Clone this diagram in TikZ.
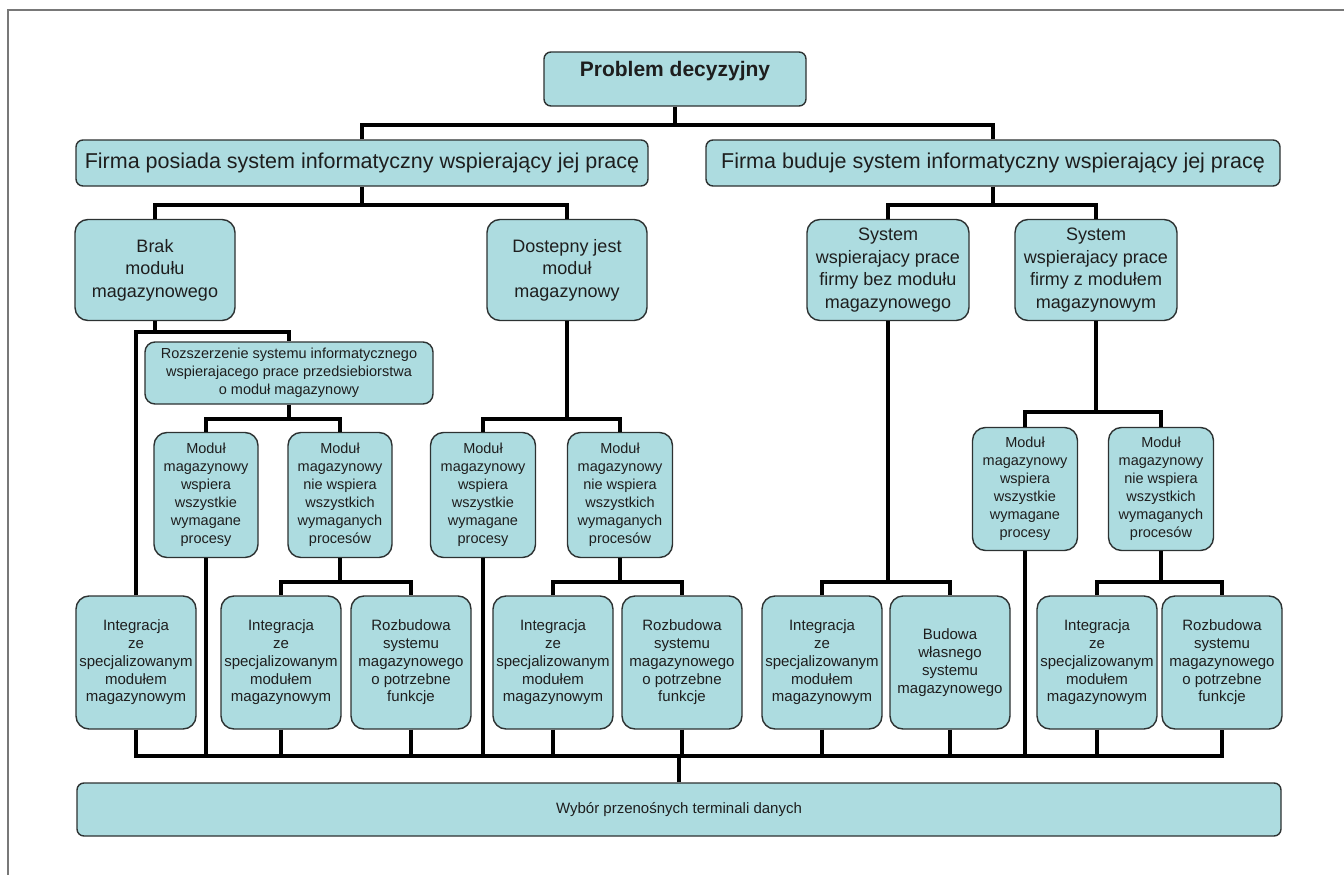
\documentclass[tikz,border=0pt]{standalone}
\usepackage{fontspec}
\setmainfont{Liberation Sans}
\definecolor{boxfill}{RGB}{173,220,224}
\definecolor{boxline}{RGB}{45,50,50}
\definecolor{framecol}{RGB}{120,120,120}
\definecolor{txt}{RGB}{30,30,30}
\tikzset{
  bx/.style={draw=boxline, line width=1.4pt, fill=boxfill, rounded corners=13pt,
    align=center, inner sep=0pt, text=txt},
  widebox/.style={bx, rounded corners=7pt},
  bigtxt/.style={font=\fontsize{21.5pt}{26pt}\selectfont},
  midtxt/.style={font=\fontsize{18pt}{22.5pt}\selectfont},
  smalltxt/.style={font=\fontsize{14.5pt}{18pt}\selectfont},
  bottxt/.style={font=\fontsize{15pt}{17.75pt}\selectfont},
  conn/.style={line width=3.2pt, black, line join=miter},
}
\begin{document}
\begin{tikzpicture}[x=1pt,y=-1pt]
\useasboundingbox (0,0) rectangle (1344,875);
\fill[white] (0,0) rectangle (1344,875);
\draw[framecol, line width=1.3pt] (8,875) -- (8,10) -- (1344,10);

% junction levels
\coordinate (ja) at (0,125);
\coordinate (jb) at (0,205);
\coordinate (jc) at (0,332);
\coordinate (jd) at (0,419);
\coordinate (je) at (0,412);
\coordinate (jf) at (0,582);
\coordinate (bus) at (0,756);

% nodes
\node[widebox, minimum width=262, minimum height=54, text height=14pt, text depth=18pt,
  font=\fontsize{21pt}{25pt}\selectfont\bfseries] (root) at (675,79) {Problem decyzyjny};
\node[widebox, bigtxt, minimum width=572, minimum height=46] (l1l) at (362,163)
  {Firma posiada system informatyczny wspierający jej pracę};
\node[widebox, bigtxt, minimum width=574, minimum height=46] (l1r) at (993,163)
  {Firma buduje system informatyczny wspierający jej pracę};

\node[bx, midtxt, minimum width=160, minimum height=101] (brak) at (155,270)
  {Brak\\modułu\\magazynowego};
\node[bx, midtxt, minimum width=160, minimum height=101] (dost) at (567,270)
  {Dostepny jest\\moduł\\magazynowy};
\node[bx, midtxt, minimum width=162, minimum height=101] (sbez) at (888,270)
  {System\\wspierajacy prace\\firmy bez modułu\\magazynowego};
\node[bx, midtxt, minimum width=162, minimum height=101] (sz) at (1096,270)
  {System\\wspierajacy prace\\firmy z modułem\\magazynowym};

\node[bx, smalltxt, rounded corners=10pt, minimum width=288, minimum height=62] (roz) at (289,373)
  {Rozszerzenie systemu informatycznego\\wspierajacego prace przedsiebiorstwa\\o moduł magazynowy};

\node[bx, smalltxt, minimum width=104, minimum height=125] (mA) at (206,495)
  {Moduł\\magazynowy\\wspiera\\wszystkie\\wymagane\\procesy};
\node[bx, smalltxt, minimum width=104, minimum height=125] (mB) at (340,495)
  {Moduł\\magazynowy\\nie wspiera\\wszystkich\\wymaganych\\procesów};
\node[bx, smalltxt, minimum width=105, minimum height=125] (mC) at (483,495)
  {Moduł\\magazynowy\\wspiera\\wszystkie\\wymagane\\procesy};
\node[bx, smalltxt, minimum width=105, minimum height=125] (mD) at (620,495)
  {Moduł\\magazynowy\\nie wspiera\\wszystkich\\wymaganych\\procesów};
\node[bx, smalltxt, minimum width=105, minimum height=123] (mE) at (1025,489)
  {Moduł\\magazynowy\\wspiera\\wszystkie\\wymagane\\procesy};
\node[bx, smalltxt, minimum width=105, minimum height=123] (mF) at (1161,489)
  {Moduł\\magazynowy\\nie wspiera\\wszystkich\\wymaganych\\procesów};

\node[bx, bottxt, minimum width=120, minimum height=133] (b1) at (136,662.5)
  {Integracja\\ze\\specjalizowanym\\modułem\\magazynowym};
\node[bx, bottxt, minimum width=120, minimum height=133] (b2) at (281,662.5)
  {Integracja\\ze\\specjalizowanym\\modułem\\magazynowym};
\node[bx, bottxt, minimum width=120, minimum height=133] (b3) at (411,662.5)
  {Rozbudowa\\systemu\\magazynowego\\o potrzebne\\funkcje};
\node[bx, bottxt, minimum width=120, minimum height=133] (b4) at (553,662.5)
  {Integracja\\ze\\specjalizowanym\\modułem\\magazynowym};
\node[bx, bottxt, minimum width=120, minimum height=133] (b5) at (682,662.5)
  {Rozbudowa\\systemu\\magazynowego\\o potrzebne\\funkcje};
\node[bx, bottxt, minimum width=120, minimum height=133] (b6) at (822,662.5)
  {Integracja\\ze\\specjalizowanym\\modułem\\magazynowym};
\node[bx, bottxt, minimum width=120, minimum height=133] (b7) at (950,662.5)
  {Budowa\\własnego\\systemu\\magazynowego};
\node[bx, bottxt, minimum width=120, minimum height=133] (b8) at (1097,662.5)
  {Integracja\\ze\\specjalizowanym\\modułem\\magazynowym};
\node[bx, bottxt, minimum width=120, minimum height=133] (b9) at (1222,662.5)
  {Rozbudowa\\systemu\\magazynowego\\o potrzebne\\funkcje};

\node[widebox, bottxt, minimum width=1204, minimum height=53] (fin) at (679,809.5)
  {Wybór przenośnych terminali danych};

% connectors
\draw[conn] (root.south) -- (root.south |- ja);
\draw[conn] (l1l.north) -- (l1l.north |- ja) -- (l1r.north |- ja) -- (l1r.north);

\draw[conn] (l1l.south) -- (l1l.south |- jb);
\draw[conn] (brak.north) -- (brak.north |- jb) -- (dost.north |- jb) -- (dost.north);
\draw[conn] (l1r.south) -- (l1r.south |- jb);
\draw[conn] (sbez.north) -- (sbez.north |- jb) -- (sz.north |- jb) -- (sz.north);

\draw[conn] (brak.south) -- (brak.south |- jc);
\draw[conn] (b1.north) -- (b1.north |- jc) -- (roz.north |- jc) -- (roz.north);

\draw[conn] (roz.south) -- (roz.south |- jd);
\draw[conn] (mA.north) -- (mA.north |- jd) -- (mB.north |- jd) -- (mB.north);
\draw[conn] (dost.south) -- (dost.south |- jd);
\draw[conn] (mC.north) -- (mC.north |- jd) -- (mD.north |- jd) -- (mD.north);
\draw[conn] (sz.south) -- (sz.south |- je);
\draw[conn] (mE.north) -- (mE.north |- je) -- (mF.north |- je) -- (mF.north);

\draw[conn] (mB.south) -- (mB.south |- jf);
\draw[conn] (b2.north) -- (b2.north |- jf) -- (b3.north |- jf) -- (b3.north);
\draw[conn] (mD.south) -- (mD.south |- jf);
\draw[conn] (b4.north) -- (b4.north |- jf) -- (b5.north |- jf) -- (b5.north);
\draw[conn] (sbez.south) -- (sbez.south |- jf);
\draw[conn] (b6.north) -- (b6.north |- jf) -- (b7.north |- jf) -- (b7.north);
\draw[conn] (mF.south) -- (mF.south |- jf);
\draw[conn] (b8.north) -- (b8.north |- jf) -- (b9.north |- jf) -- (b9.north);

\draw[conn] (b1.south) -- (b1.south |- bus) -- (b9.south |- bus) -- (b9.south);
\foreach \n in {b2,b3,b4,b5,b6,b7,b8,mA,mC,mE}
  \draw[conn] (\n.south) -- (\n.south |- bus);
\draw[conn] (fin.north) -- (fin.north |- bus);
\end{tikzpicture}
\end{document}
